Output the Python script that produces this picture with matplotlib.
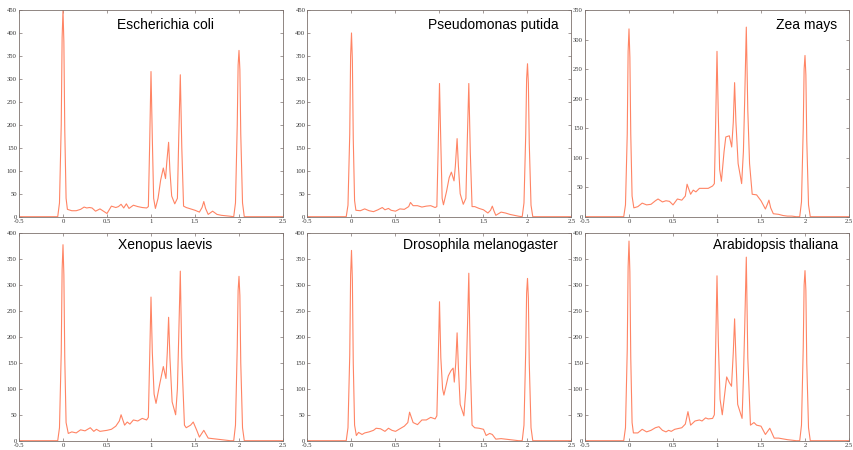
import matplotlib
matplotlib.use("Agg")
import matplotlib.pyplot as plt

# panel titles
titles = ["Escherichia coli", "Pseudomonas putida", "Zea mays",
          "Xenopus laevis", "Drosophila melanogaster", "Arabidopsis thaliana"]
ymaxes = [450, 450, 350, 400, 400, 400]

# curves (x, y)
ecoli_x = [-0.5, -0.06, -0.04, -0.02, -0.01, 0.0, 0.01, 0.02, 0.035, 0.05, 0.1, 0.15, 0.2, 0.24, 0.27, 0.3,
           0.33, 0.37, 0.42, 0.46, 0.5, 0.55, 0.6, 0.63, 0.66, 0.69, 0.72, 0.75, 0.8, 0.85, 0.9, 0.95, 0.97,
           0.985, 1.0, 1.015, 1.03, 1.05, 1.08, 1.11, 1.14, 1.165, 1.18, 1.2, 1.215, 1.235, 1.27, 1.3, 1.315,
           1.333, 1.35, 1.37, 1.4, 1.45, 1.5, 1.55, 1.58, 1.6, 1.62, 1.65, 1.7, 1.75, 1.8, 1.85, 1.9, 1.94,
           1.96, 1.98, 1.99, 2.0, 2.01, 2.02, 2.04, 2.06, 2.5]
ecoli_y = [0, 0, 30, 200, 390, 450, 380, 190, 40, 16, 13, 13, 16, 21, 19, 20,
           19, 12, 17, 12, 7, 23, 20, 22, 27, 19, 28, 18, 25, 22, 20, 19, 22,
           160, 316, 170, 40, 18, 40, 80, 106, 83, 120, 162, 100, 45, 28, 40, 170,
           309, 150, 23, 20, 17, 14, 10, 20, 33, 18, 5, 12, 5, 3, 2, 1, 0,
           30, 200, 330, 362, 320, 180, 30, 0, 0]

putida_x = [-0.5, -0.06, -0.04, -0.02, -0.01, 0.0, 0.01, 0.02, 0.035, 0.05, 0.1, 0.15, 0.2, 0.25, 0.3,
            0.35, 0.38, 0.42, 0.45, 0.5, 0.55, 0.6, 0.65, 0.67, 0.7, 0.75, 0.8, 0.85, 0.9, 0.95, 0.97,
            0.985, 1.0, 1.015, 1.03, 1.045, 1.08, 1.11, 1.135, 1.165, 1.18, 1.2, 1.215, 1.235, 1.27, 1.3, 1.315,
            1.333, 1.35, 1.37, 1.4, 1.45, 1.5, 1.55, 1.58, 1.6, 1.62, 1.64, 1.7, 1.75, 1.8, 1.85, 1.9, 1.94,
            1.96, 1.98, 1.99, 2.0, 2.01, 2.02, 2.04, 2.06, 2.5]
putida_y = [0, 0, 25, 180, 350, 400, 340, 170, 35, 14, 13, 17, 13, 11, 15,
            20, 15, 18, 14, 12, 17, 16, 22, 31, 24, 24, 21, 23, 24, 20, 22,
            150, 290, 160, 40, 26, 55, 85, 97, 78, 110, 170, 110, 50, 27, 40, 160,
            290, 140, 22, 22, 18, 15, 8, 14, 23, 12, 3, 10, 8, 5, 3, 1, 0,
            30, 180, 300, 333, 290, 160, 25, 0, 0]

zea_x = [-0.5, -0.06, -0.04, -0.02, -0.01, 0.0, 0.01, 0.02, 0.035, 0.055, 0.1, 0.15, 0.2, 0.25, 0.3,
         0.33, 0.38, 0.42, 0.46, 0.5, 0.55, 0.6, 0.64, 0.66, 0.7, 0.73, 0.76, 0.8, 0.85, 0.9, 0.95, 0.97,
         0.985, 1.0, 1.015, 1.03, 1.05, 1.08, 1.1, 1.14, 1.167, 1.185, 1.2, 1.215, 1.24, 1.28, 1.3, 1.315,
         1.333, 1.35, 1.37, 1.4, 1.45, 1.5, 1.55, 1.575, 1.59, 1.61, 1.64, 1.7, 1.75, 1.8, 1.85, 1.9, 1.94,
         1.96, 1.98, 1.99, 2.0, 2.01, 2.02, 2.04, 2.06, 2.5]
zea_y = [0, 0, 20, 140, 280, 318, 270, 140, 35, 15, 17, 23, 20, 21, 27,
         30, 25, 27, 26, 20, 30, 28, 35, 55, 38, 45, 42, 48, 48, 48, 52, 56,
         160, 280, 170, 80, 60, 110, 135, 137, 118, 160, 227, 160, 90, 56, 110, 200,
         321, 180, 90, 38, 37, 27, 13, 22, 28, 15, 5, 4, 2, 1, 1, 0, 0,
         25, 150, 250, 273, 240, 130, 20, 0, 0]

xenopus_x = [-0.5, -0.06, -0.04, -0.02, -0.01, 0.0, 0.01, 0.02, 0.035, 0.06, 0.1, 0.15, 0.2, 0.25, 0.31,
             0.35, 0.38, 0.42, 0.5, 0.55, 0.6, 0.64, 0.66, 0.7, 0.73, 0.76, 0.8, 0.85, 0.9, 0.95, 0.97,
             0.985, 1.0, 1.015, 1.035, 1.057, 1.1, 1.14, 1.17, 1.185, 1.2, 1.215, 1.24, 1.28, 1.3, 1.315,
             1.333, 1.35, 1.38, 1.4, 1.45, 1.48, 1.52, 1.55, 1.6, 1.65, 1.7, 1.8, 1.9, 1.94,
             1.96, 1.98, 1.99, 2.0, 2.01, 2.02, 2.04, 2.06, 2.5]
xenopus_y = [0, 0, 25, 170, 330, 378, 320, 160, 35, 14, 17, 15, 21, 19, 25,
             18, 22, 18, 20, 22, 28, 38, 50, 30, 36, 32, 40, 38, 43, 40, 45,
             160, 277, 170, 90, 72, 110, 143, 120, 170, 238, 160, 75, 50, 100, 200,
             327, 160, 30, 25, 30, 36, 20, 7, 20, 5, 4, 2, 0, 0,
             30, 180, 290, 317, 280, 150, 25, 0, 0]

dros_x = [-0.5, -0.06, -0.04, -0.02, -0.01, 0.0, 0.01, 0.02, 0.035, 0.055, 0.08, 0.12, 0.15, 0.2, 0.25, 0.28,
          0.33, 0.38, 0.42, 0.46, 0.5, 0.55, 0.6, 0.64, 0.66, 0.7, 0.75, 0.8, 0.85, 0.9, 0.95, 0.97,
          0.985, 1.0, 1.015, 1.035, 1.05, 1.1, 1.13, 1.155, 1.168, 1.185, 1.2, 1.215, 1.235, 1.277, 1.3, 1.315,
          1.333, 1.35, 1.37, 1.4, 1.45, 1.5, 1.53, 1.57, 1.6, 1.64, 1.7, 1.8, 1.9, 1.94,
          1.96, 1.98, 1.99, 2.0, 2.01, 2.02, 2.04, 2.06, 2.5]
dros_y = [0, 0, 25, 165, 320, 367, 310, 150, 30, 10, 16, 12, 15, 17, 20, 24,
          23, 18, 24, 20, 18, 23, 28, 35, 55, 35, 31, 40, 40, 45, 42, 48,
          150, 268, 160, 100, 88, 125, 135, 140, 113, 150, 208, 140, 70, 48, 100, 200,
          323, 150, 30, 25, 24, 22, 10, 14, 12, 3, 4, 2, 0, 0,
          30, 175, 285, 313, 275, 150, 25, 0, 0]

arab_x = [-0.5, -0.06, -0.04, -0.02, -0.01, 0.0, 0.01, 0.02, 0.035, 0.05, 0.1, 0.15, 0.2, 0.25, 0.3,
          0.34, 0.38, 0.42, 0.45, 0.48, 0.52, 0.6, 0.64, 0.67, 0.7, 0.75, 0.8, 0.83, 0.87, 0.9, 0.95, 0.97,
          0.985, 1.0, 1.015, 1.035, 1.06, 1.11, 1.14, 1.165, 1.185, 1.2, 1.215, 1.235, 1.285, 1.3, 1.315,
          1.333, 1.35, 1.38, 1.42, 1.45, 1.5, 1.55, 1.6, 1.65, 1.7, 1.8, 1.9, 1.94,
          1.96, 1.98, 1.99, 2.0, 2.01, 2.02, 2.04, 2.06, 2.5]
arab_y = [0, 0, 25, 175, 335, 385, 325, 160, 35, 15, 15, 22, 17, 20, 25,
          27, 20, 17, 20, 18, 22, 25, 32, 56, 30, 38, 40, 38, 44, 42, 43, 50,
          180, 318, 190, 80, 50, 123, 112, 105, 170, 235, 160, 70, 43, 120, 220,
          354, 160, 30, 35, 30, 28, 12, 24, 5, 5, 2, 0, 0,
          30, 180, 300, 328, 290, 150, 25, 0, 0]

curves = [(ecoli_x, ecoli_y), (putida_x, putida_y), (zea_x, zea_y),
          (xenopus_x, xenopus_y), (dros_x, dros_y), (arab_x, arab_y)]

W, H = 854, 450
fig = plt.figure(figsize=(W / 100, H / 100), dpi=100)

lefts = [19, 307.5, 585]
rows = [(10, 216.7), (233.3, 440.7)]
spine_col = "#7d726e"
# title anchor (x, y in axes fraction, alignment) per panel
title_pos = [(0.555, 0.908, "center"), (0.95, 0.908, "right"), (0.955, 0.908, "right"),
             (0.555, 0.922, "center"), (0.95, 0.922, "right"), (0.96, 0.922, "right")]

for i, (xs, ys) in enumerate(curves):
    r, c = divmod(i, 3)
    top, bot = rows[r]
    ax = fig.add_axes([lefts[c] / W, 1 - bot / H, 264 / W, (bot - top) / H])
    ax.plot(xs, ys, color="#ff8464", linewidth=0.8)
    ax.set_xlim(-0.5, 2.5)
    ax.set_ylim(0, ymaxes[i])
    ax.set_xticks([-0.5, 0, 0.5, 1, 1.5, 2, 2.5])
    ax.set_xticklabels(["-0.5", "0", "0.5", "1", "1.5", "2", "2.5"])
    ax.set_yticks(range(0, ymaxes[i] + 1, 50))
    ax.tick_params(direction="in", length=2, width=0.5, colors=spine_col, labelcolor="#333333",
                   labelsize=4.8, top=True, right=True)
    ax.tick_params(axis="x", pad=2)
    ax.tick_params(axis="y", pad=1.5)
    for lab in ax.get_xticklabels() + ax.get_yticklabels():
        lab.set_fontfamily("Liberation Serif")
    for s in ax.spines.values():
        s.set_color(spine_col)
        s.set_linewidth(0.6)
    tx, ty, ha = title_pos[i]
    ax.text(tx, ty, titles[i], transform=ax.transAxes, ha=ha, va="baseline",
            fontsize=10, family="Liberation Sans", color="black")

fig.savefig("out.png", dpi=100)
